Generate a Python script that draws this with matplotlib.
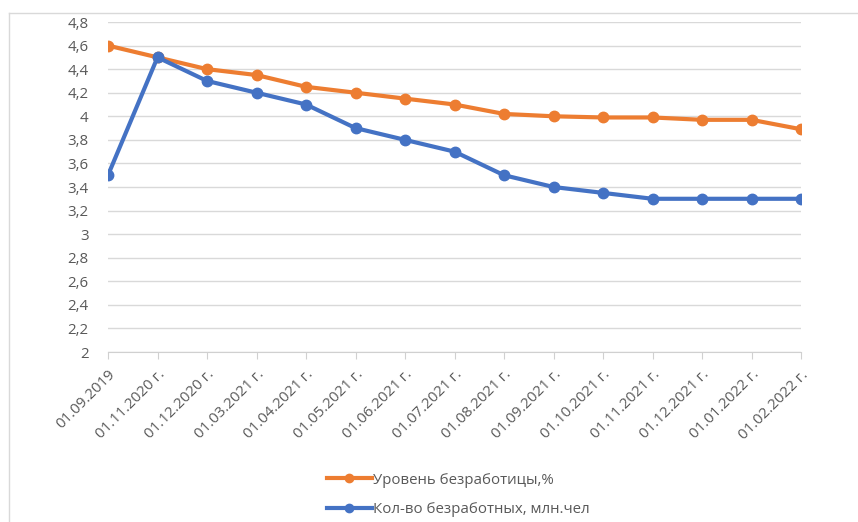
import matplotlib
matplotlib.use('Agg')
import matplotlib.pyplot as plt
from matplotlib.lines import Line2D

plt.rcParams['font.family'] = ['Open Sans', 'DejaVu Sans']

dates = ['01.09.2019', '01.11.2020 г.', '01.12.2020 г.', '01.03.2021 г.',
         '01.04.2021 г.', '01.05.2021 г.', '01.06.2021 г.', '01.07.2021 г.',
         '01.08.2021 г.', '01.09.2021 г.', '01.10.2021 г.', '01.11.2021 г.',
         '01.12.2021 г.', '01.01.2022 г.', '01.02.2022 г.']
rate = [4.6, 4.5, 4.4, 4.35, 4.25, 4.2, 4.15, 4.1, 4.02, 4.0, 3.99, 3.99,
        3.97, 3.97, 3.89]
unemployed = [3.5, 4.5, 4.3, 4.2, 4.1, 3.9, 3.8, 3.7, 3.5, 3.4, 3.35, 3.3,
              3.3, 3.3, 3.3]
yticks = [2 + 0.2 * i for i in range(15)]

orange = '#ED7D31'
blue = '#4472C4'
txt = '#595959'
fs = 10.8

fig = plt.figure(figsize=(8.58, 5.22), dpi=100)
ax = fig.add_axes([108/858, 1 - 352/522, (801-108)/858, (352-22)/522])

x = list(range(len(dates)))
ax.plot(x, rate, color=orange, lw=3, marker='o', ms=7.5,
        label='Уровень безработицы,%', zorder=3)
ax.plot(x, unemployed, color=blue, lw=3, marker='o', ms=7.5,
        label='Кол-во безработных, млн.чел', zorder=3)

ax.set_xlim(0, len(dates) - 1)
ax.set_ylim(2, 4.8)
ax.set_yticks(yticks)
ax.set_yticklabels([('%g' % round(v, 1)).replace('.', ',') for v in yticks],
                   fontsize=fs, color=txt)
ax.set_xticks(x)
ax.set_xticklabels(dates, rotation=45, ha='right', rotation_mode='anchor',
                   fontsize=fs, color=txt)
ax.tick_params(axis='y', length=0, pad=14)
ax.tick_params(axis='x', length=5, color='#d0d0d0', pad=6)
ax.grid(axis='y', color='#d9d9d9', lw=1)
ax.set_axisbelow(True)
for s in ['top', 'right', 'left']:
    ax.spines[s].set_visible(False)
ax.spines['bottom'].set_color('#d0d0d0')
ax.spines['bottom'].set_zorder(1)

leg = fig.legend(loc='upper left', bbox_to_anchor=(313/858, 1 - 459/522),
                 frameon=False, fontsize=fs, labelcolor=txt, markerscale=0.8,
                 handlelength=3.0, handletextpad=0.1, labelspacing=0.95)

# chart frame edges visible in the crop
fig.add_artist(Line2D([9/858, 1], [1 - 13/522, 1 - 13/522],
                      transform=fig.transFigure, color='#d9d9d9', lw=1))
fig.add_artist(Line2D([9/858, 9/858], [0, 1 - 13/522],
                      transform=fig.transFigure, color='#d9d9d9', lw=1))

fig.savefig('out.png', dpi=100)
